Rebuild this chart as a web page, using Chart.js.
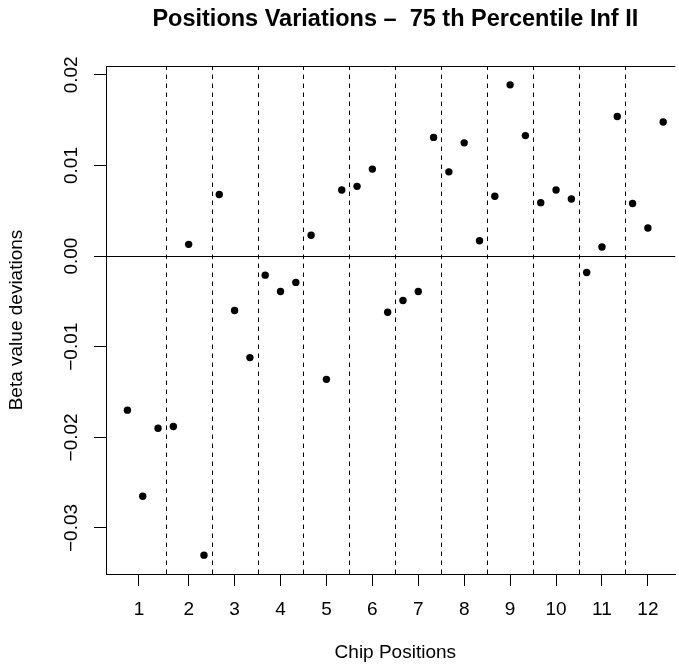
<!DOCTYPE html>
<html>
<head>
<meta charset="utf-8">
<script src="https://cdn.jsdelivr.net/npm/chart.js@4/dist/chart.umd.min.js"></script>
<style>
  html, body { margin: 0; padding: 0; background: #fff; overflow: hidden; }
  canvas { display: block; }
</style>
</head>
<body>
<canvas id="posChart" width="679" height="672"></canvas>
<script>
// data
const positionIndex = [1, 2, 3, 4, 5, 6, 7, 8, 9, 10, 11, 12, 13, 14, 15, 16, 17, 18,
  19, 20, 21, 22, 23, 24, 25, 26, 27, 28, 29, 30, 31, 32, 33, 34, 35, 36]
const deviations = [-0.0170, -0.0265, -0.0190, -0.0188, 0.0013, -0.0330,
  0.0068, -0.0060, -0.0112, -0.0021, -0.0039, -0.0029,
  0.0023, -0.0136, 0.0073, 0.0077, 0.0096, -0.0062,
  -0.0049, -0.0039, 0.0131, 0.0093, 0.0125, 0.0017,
  0.0066, 0.0189, 0.0133, 0.0059, 0.0073, 0.0063,
  -0.0018, 0.0010, 0.0154, 0.0058, 0.0031, 0.0148]
const chipLabels = ['1', '2', '3', '4', '5', '6', '7', '8', '9', '10', '11', '12']
const chipTickPos = [1.75, 5, 8, 11, 14, 17, 20, 23, 26, 29, 32, 35]
const chipBoundaries = [3.5, 6.5, 9.5, 12.5, 15.5, 18.5, 21.5, 24.5, 27.5, 30.5, 33.5]
const yTickValues = [-0.03, -0.02, -0.01, 0, 0.01, 0.02]
const yTickLabels = ['\u22120.03', '\u22120.02', '\u22120.01', '0.00', '0.01', '0.02']

const FONT = '"Liberation Sans", Arial, Helvetica, sans-serif'
const titleText = 'Positions Variations \u2013  75 th Percentile Inf II'

// R-like decorations: ablines, box top, labels
const rDecor = {
  id: 'rDecor',
  afterDatasetsDraw (chart) {
    const ctx = chart.ctx
    const area = chart.chartArea
    const xs = chart.scales.x
    const ys = chart.scales.y
    ctx.save()
    ctx.strokeStyle = '#000'
    ctx.lineWidth = 1
    // dashed chip separators
    ctx.setLineDash([4.5, 4.5])
    chipBoundaries.forEach((b) => {
      const px = Math.round(xs.getPixelForValue(b)) + 0.5
      ctx.beginPath()
      ctx.moveTo(px, area.bottom)
      ctx.lineTo(px, area.top)
      ctx.stroke()
    })
    ctx.setLineDash([])
    // zero line
    const py0 = Math.round(ys.getPixelForValue(0)) + 0.5
    ctx.beginPath()
    ctx.moveTo(area.left, py0)
    ctx.lineTo(area.right, py0)
    ctx.stroke()
    // top of the box
    ctx.beginPath()
    ctx.moveTo(area.left, Math.round(area.top) + 0.5)
    ctx.lineTo(area.right, Math.round(area.top) + 0.5)
    ctx.stroke()
    ctx.restore()
  },
  afterDraw (chart) {
    const ctx = chart.ctx
    const area = chart.chartArea
    const xs = chart.scales.x
    const ys = chart.scales.y
    ctx.save()
    ctx.fillStyle = '#000'
    // x tick labels
    ctx.font = '19px ' + FONT
    ctx.textAlign = 'center'
    ctx.textBaseline = 'middle'
    chipTickPos.forEach((v, i) => {
      ctx.fillText(chipLabels[i], xs.getPixelForValue(v), 610)
    })
    // y tick labels, rotated like R
    yTickValues.forEach((v, i) => {
      ctx.save()
      ctx.translate(72, ys.getPixelForValue(v))
      ctx.rotate(-Math.PI / 2)
      ctx.fillText(yTickLabels[i], 0, 0)
      ctx.restore()
    })
    // axis titles
    const plotMid = (xs.getPixelForValue(-0.4) + xs.getPixelForValue(37.4)) / 2
    ctx.fillText('Chip Positions', plotMid, 653)
    ctx.save()
    ctx.translate(17, (area.top + area.bottom) / 2)
    ctx.rotate(-Math.PI / 2)
    ctx.fillText('Beta value deviations', 0, 0)
    ctx.restore()
    // main title
    ctx.font = 'bold 23.5px ' + FONT
    ctx.textBaseline = 'alphabetic'
    ctx.fillText(titleText, plotMid, 26)
    ctx.restore()
  }
}

const ctx = document.getElementById('posChart')
const posChart = new Chart(ctx, {
  type: 'scatter',
  data: {
    datasets: [{
      label: 'Beta value deviations',
      data: positionIndex.map((p, i) => ({ x: p, y: deviations[i] })),
      backgroundColor: '#000',
      borderWidth: 0,
      pointRadius: 3.7,
      pointHoverRadius: 3.7
    }]
  },
  options: {
    responsive: false,
    animation: false,
    events: [],
    layout: { padding: { top: 66, left: 0, right: 0, bottom: 0 } },
    plugins: {
      legend: { display: false },
      tooltip: { enabled: false },
      title: { display: false }
    },
    scales: {
      x: {
        type: 'linear',
        min: -0.4,
        max: 36.79,
        afterBuildTicks: (s) => { s.ticks = chipTickPos.map((v) => ({ value: v })) },
        afterFit: (s) => { s.height = 98 },
        ticks: { display: false },
        grid: { drawOnChartArea: false, drawTicks: true, tickLength: 12, color: '#000', lineWidth: 1 },
        border: { display: true, color: '#000', width: 1 }
      },
      y: {
        type: 'linear',
        min: -0.03508,
        max: 0.02098,
        afterBuildTicks: (s) => { s.ticks = yTickValues.map((v) => ({ value: v })) },
        afterFit: (s) => { s.width = 106 },
        ticks: { display: false },
        grid: { drawOnChartArea: false, drawTicks: true, tickLength: 12, color: '#000', lineWidth: 1 },
        border: { display: true, color: '#000', width: 1 }
      }
    }
  },
  plugins: [rDecor]
})
</script>
</body>
</html>
